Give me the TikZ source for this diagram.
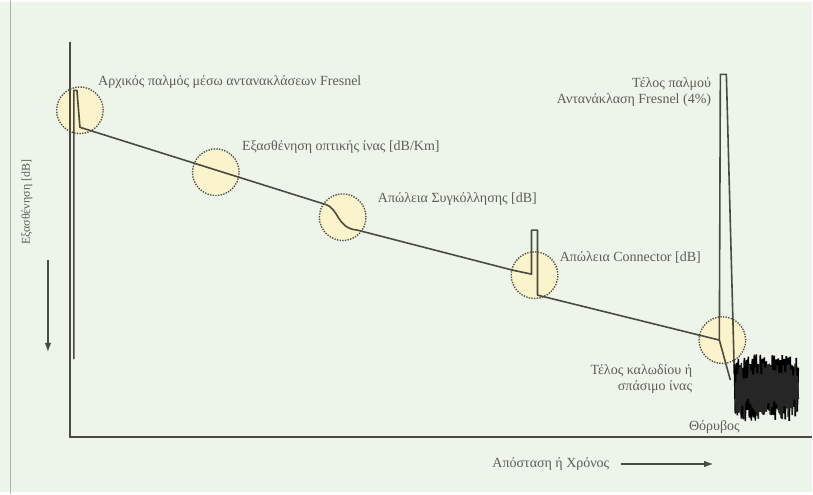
\documentclass[tikz,border=0pt]{standalone}
\usepackage{fontspec}
\setmainfont{Liberation Serif}
\usetikzlibrary{arrows.meta,calc}
\definecolor{paper}{HTML}{EDF4EA}
\definecolor{trace}{HTML}{4A4A3E}
\definecolor{eventfill}{HTML}{FAF3CC}
\definecolor{labelgray}{HTML}{5E5E56}

\begin{document}
\begin{tikzpicture}[x=0.75pt,y=-0.75pt,
    event/.style={circle,draw=trace,densely dotted,fill=eventfill,line width=1pt,minimum size=35pt,inner sep=0},
    lbl/.style={text=labelgray,font=\fontsize{10.5}{12}\selectfont,inner sep=0}]
      % background and frame
      \fill[paper] (0,0) rectangle (813,490);
      \draw[gray!60,line width=0.6pt] (10,-2) -- (10,492);
      % event circles
      \node[event] (fresnelA) at (80,108) {};
      \node[event] (fibre) at (216,170) {};
      \node[event] (splice) at (343,215) {};
      \node[event] (connector) at (535,273) {};
      \node[event] (fibreend) at (723,338) {};
      % axes
      \coordinate (ytop) at (70,40);
      \coordinate (origin) at (70,435);
      \coordinate (xend) at (813,435);
      \draw[trace,line width=1.1pt] (ytop) -- (origin) -- (xend);
      % the trace
      \draw[trace,line width=1.2pt,line join=round] (74,357) -- (74,88) -- (77,88) -- (80,125)
        -- (325,202) .. controls (340,206) and (336,226) .. (358,228)
        -- (513,268) -- (532,272) -- (532,228) -- (538,228) -- (538,293)
        -- (720,338) -- (721,72) -- (727,72) -- (735,372);
      \draw[trace,line width=1.2pt] (720,338) -- (731,378);
      % noise
      \pgfmathsetseed{7}
      \draw[black,line width=1.2pt] (735,362) \foreach \i in {1,...,64} { -- ({735+\i},{mod(\i,2)==0 ? 352+rnd*14 : 404+rnd*16})};
      \draw[black!85,line width=1.2pt] (736,380) \foreach \i in {1,...,63} { -- ({736+\i},{mod(\i,2)==0 ? 360+rnd*18 : 396+rnd*22})};
      % labels
      \node[lbl,anchor=west] (startlbl) at (98,80) {Αρχικός παλμός μέσω αντανακλάσεων Fresnel};
      \node[lbl,anchor=west] (attlbl) at (242,145) {Εξασθένηση οπτικής ίνας [dB/Km]};
      \node[lbl,anchor=west] (splicelbl) at (378,197) {Απώλεια Συγκόλλησης [dB]};
      \node[lbl,anchor=west] (connlbl) at (560,255) {Απώλεια Connector [dB]};
      \node[lbl,anchor=east,align=right] (endlbl) at (712,90) {Τέλος παλμού\\Αντανάκλαση Fresnel (4\%)};
      \node[lbl,anchor=east,align=right] (breaklbl) at (693,377) {Τέλος καλωδίου ή\\σπάσιμο ίνας};
      \node[lbl] (noiselbl) at (715,425) {Θόρυβος};
      \node[lbl,anchor=east] (xlbl) at (610,462) {Απόσταση ή Χρόνος};
      \node[lbl,rotate=90,font=\fontsize{9}{10}\selectfont] (ylbl) at (27,200) {Εξασθένηση [dB]};
      % direction arrows
      \coordinate (xarrowA) at (622,462);
      \coordinate (xarrowB) at (714,462);
      \coordinate (yarrowA) at (48,258);
      \coordinate (yarrowB) at (48,350);
      \draw[trace,line width=1pt,-{Latex[length=7pt,width=5pt]}] (xarrowA) -- (xarrowB);
      \draw[trace,line width=1pt,-{Latex[length=7pt,width=5pt]}] (yarrowA) -- (yarrowB);
\end{tikzpicture}
\end{document}
